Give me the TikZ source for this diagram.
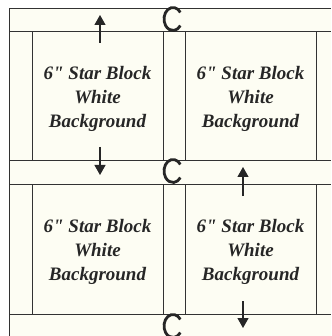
\documentclass[tikz,border=0pt]{standalone}
\usepackage{fontspec}
\setmainfont{Liberation Serif}
\usetikzlibrary{arrows.meta}
\definecolor{cream}{RGB}{253,253,243}
\definecolor{ink}{RGB}{50,50,50}
\begin{document}
\begin{tikzpicture}[x=1pt,y=-1pt,
  gridline/.style={draw=ink,line width=0.9pt},
  blockbox/.style={draw=ink,line width=0.9pt,fill=cream,minimum width=131pt,minimum height=129pt,inner sep=0pt},
  blocktext/.style={align=center,inner sep=0pt,font=\fontsize{19}{24}\selectfont\bfseries\itshape,text=black!85},
  cmark/.style={draw=black!85,line width=2.8pt},
  arrowline/.style={draw=black!85,line width=1.2pt,-{Triangle[length=10pt,width=11pt]}}]
\useasboundingbox (0,0) rectangle (331,336);
\fill[white] (0,0) rectangle (331,336);
\fill[cream] (9,8) rectangle (331,336);
% blocks
\node[blockbox] (b1) at (97.5,95.5) {};
\node[blockbox] (b2) at (250.5,95.5) {};
\node[blockbox,minimum height=130pt] (b3) at (97.5,249) {};
\node[blockbox,minimum height=130pt] (b4) at (250.5,249) {};
\node[blocktext] (t1) at ([yshift=-3pt]b1.center) {6\textquotedbl{} Star Block\\White\\Background};
\node[blocktext] (t2) at ([yshift=-3pt]b2.center) {6\textquotedbl{} Star Block\\White\\Background};
\node[blocktext] (t3) at ([yshift=-3pt]b3.center) {6\textquotedbl{} Star Block\\White\\Background};
\node[blocktext] (t4) at ([yshift=-3pt]b4.center) {6\textquotedbl{} Star Block\\White\\Background};
% frame and sashing lines
\draw[gridline] (9,336) -- (9,8) -- (331,8);
\draw[gridline] (9,31) -- (331,31);
\draw[gridline] (9,160) -- (331,160);
\draw[gridline] (9,184) -- (331,184);
\draw[gridline] (9,314) -- (331,314);
% C marks
\draw[cmark] (173,19) ++(35:9pt and 11.5pt) arc[start angle=35,end angle=325,x radius=9pt,y radius=11.5pt];
\draw[cmark] (173,171) ++(35:9pt and 11.5pt) arc[start angle=35,end angle=325,x radius=9pt,y radius=11.5pt];
\draw[cmark] (173,326) ++(35:9pt and 11.5pt) arc[start angle=35,end angle=325,x radius=9pt,y radius=11.5pt];
% arrows
\coordinate (a1s) at (100,43);  \coordinate (a1t) at (100,15);
\coordinate (a2s) at (100,147); \coordinate (a2t) at (100,175);
\coordinate (a3s) at (243,196); \coordinate (a3t) at (243,167);
\coordinate (a4s) at (243,301); \coordinate (a4t) at (243,328);
\draw[arrowline] (a1s) -- (a1t);
\draw[arrowline] (a2s) -- (a2t);
\draw[arrowline] (a3s) -- (a3t);
\draw[arrowline] (a4s) -- (a4t);
\end{tikzpicture}
\end{document}
